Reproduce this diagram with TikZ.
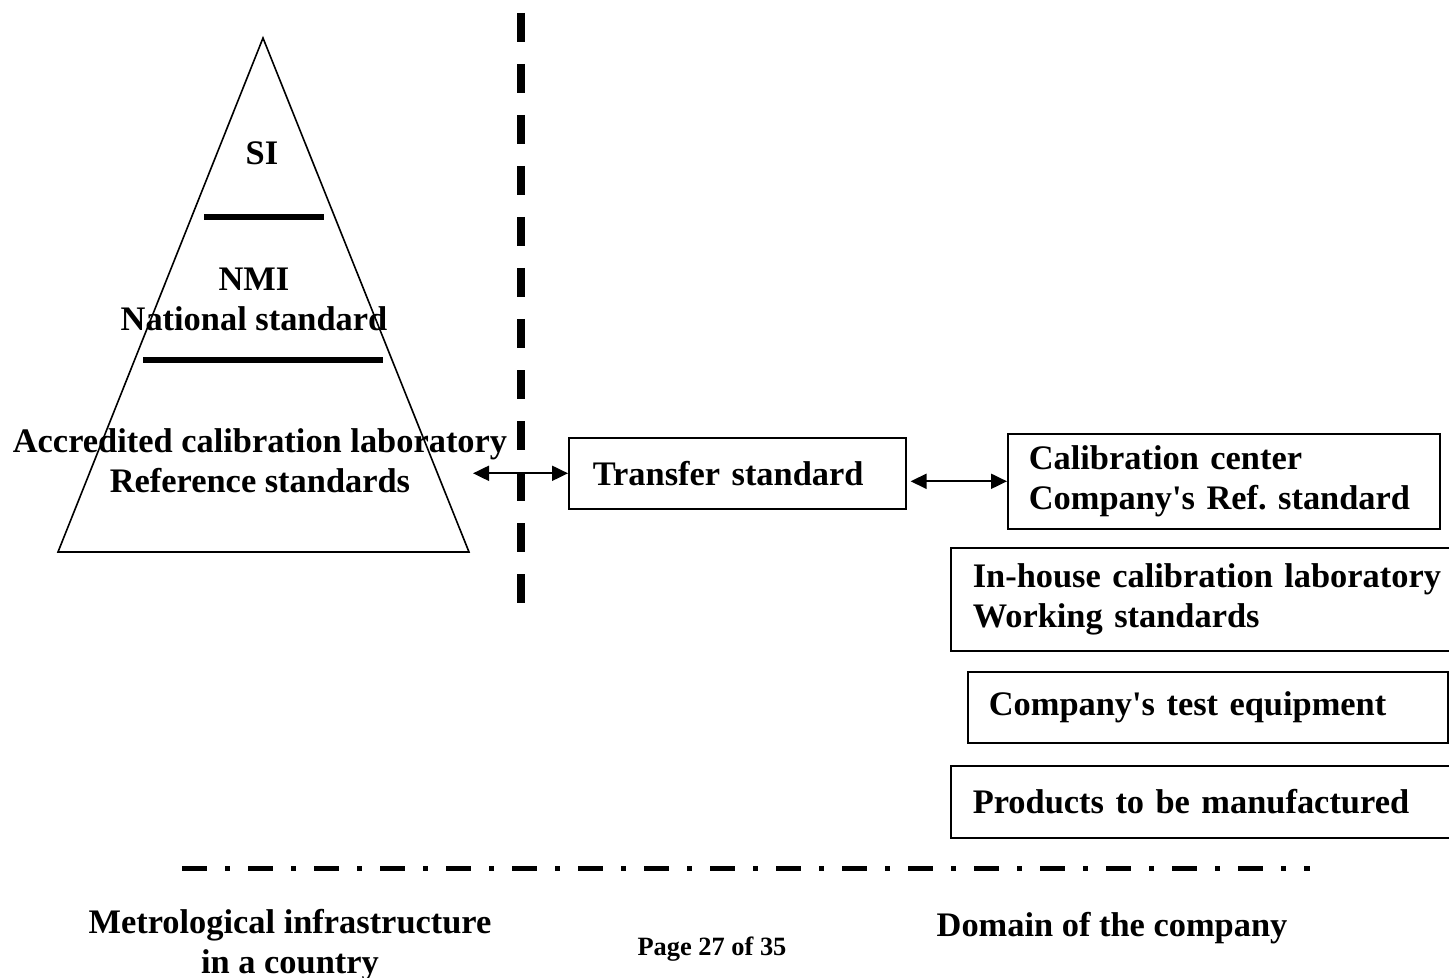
\documentclass[tikz,border=0pt]{standalone}
\usepackage{fontspec}
\setmainfont{Liberation Serif}[Ligatures=TeXOff]
\usepackage{tikz}
\usetikzlibrary{arrows.meta,calc}

\tikzset{
  lbl/.style={font=\bfseries\fontsize{17.2}{20}\selectfont, inner sep=0pt},
  stdbox/.style={draw, line width=0.8pt, lbl, align=left, anchor=north west, inner ysep=0pt},
  link/.style={{Triangle[length=8pt,width=7.5pt]}-{Triangle[length=8pt,width=7.5pt]}, line width=1pt},
  level/.style={line width=3pt},
}

\begin{document}
\frenchspacing
\begin{tikzpicture}[x=0.5pt, y=-0.5pt]
  \useasboundingbox (0,0) rectangle (1449,978);

  % the pyramid of standards
  \draw[line width=0.8pt] (263,38) -- (469,552) -- (58,552) -- cycle;
  \draw[level] (204,217) -- (324,217);
  \draw[level] (143,360) -- (383,360);
  \node[lbl, anchor=base] (si) at (262,165) {SI};
  \node[lbl, anchor=base, align=center] (nmi) at (254,330) {NMI\\National standard};
  \node[lbl, anchor=base, align=center] (acl) at (260,492) {Accredited calibration laboratory\\Reference standards};

  % boundaries
  \draw[line width=4pt, dash pattern=on 14.5pt off 11pt] (521,13) -- (521,607);
  \draw[line width=2.5pt, dash pattern=on 12.5pt off 9pt on 2.5pt off 9pt] (182,868) -- (1310,868);

  % company side
  \node[stdbox, minimum width=168.5pt, minimum height=35.5pt, inner xsep=12pt, text width=144.5pt] (transfer) at (568,437) {Transfer standard};
  \node[stdbox, minimum width=216pt, minimum height=47.5pt, inner xsep=10.5pt, text width=195pt] (calib) at (1007,433) {Calibration center\\Company's Ref. standard};
  \node[stdbox, minimum width=270pt, minimum height=51.5pt, inner xsep=11pt, text width=248pt] (inhouse) at (950,547) {In-house calibration laboratory\\Working standards};
  \node[stdbox, minimum width=240pt, minimum height=35.5pt, inner xsep=10.5pt, text width=219pt] (testeq) at (967,671) {Company's test equipment};
  \node[stdbox, minimum width=270pt, minimum height=36pt, inner xsep=11pt, text width=248pt] (products) at (950,765) {Products to be manufactured};

  \coordinate (labout) at (473,470);
  \coordinate (tsout) at ($(transfer.east |- calib.west)+(2pt,0)$);
  \draw[link] (labout |- transfer.west) -- (transfer.west);
  \draw[link] (tsout) -- (calib.west);

  % captions
  \node[lbl, anchor=base, align=center] (infra) at (290,973) {Metrological infrastructure\\in a country};
  \node[font=\bfseries\fontsize{13.2}{16}\selectfont, anchor=base, inner sep=0pt] (page) at (712,955) {Page 27 of 35};
  \node[lbl, anchor=base] (domain) at (1112,936) {Domain of the company};
\end{tikzpicture}
\end{document}
